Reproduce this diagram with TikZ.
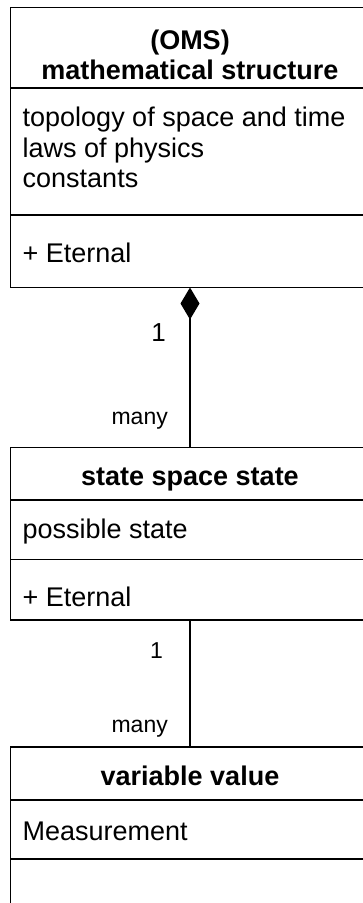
\documentclass[tikz,border=0pt]{standalone}
\usepackage{fontspec}
\setmainfont{Liberation Sans}
\usetikzlibrary{arrows.meta}

\tikzset{
  classbox/.style={draw=black, line width=1.6pt, fill=white, rectangle,
    inner sep=0pt, outer sep=0pt, anchor=north west, minimum width=359pt},
  sepline/.style={draw=black, line width=1.6pt},
  titletext/.style={anchor=base, inner sep=0pt, font=\fontsize{27}{31}\selectfont\bfseries},
  attrtext/.style={anchor=base west, inner sep=0pt, font=\fontsize{27}{31}\selectfont},
  multtext/.style={anchor=base east, inner sep=0pt, font=\fontsize{23}{28}\selectfont},
  assoc/.style={draw=black, line width=1.4pt},
}

\begin{document}
\begin{tikzpicture}[x=1pt, y=-1pt]
  \useasboundingbox (0,0) rectangle (363,903);
  \clip (0,0) rectangle (363,903);

  % class: mathematical structure
  \node[classbox, minimum height=280pt] (oms) at (10.5,7.5) {};
  \draw[sepline] (10.5,88) -- (369.5,88);
  \draw[sepline] (10.5,215) -- (369.5,215);
  \node[titletext] (omsA) at (190,49) {(OMS)};
  \node[titletext] (omsB) at (190,79) {mathematical structure};
  \node[attrtext] (omsC) at (22.5,126) {topology of space and time};
  \node[attrtext] (omsD) at (22.5,157) {laws of physics};
  \node[attrtext] (omsE) at (22.5,187) {constants};
  \node[attrtext] (omsF) at (22.5,262) {+ Eternal};

  % class: state space state
  \node[classbox, minimum height=172.5pt] (sss) at (10.5,447.5) {};
  \draw[sepline] (10.5,500) -- (369.5,500);
  \draw[sepline] (10.5,559.5) -- (369.5,559.5);
  \node[titletext] (sssA) at (190,485) {state space state};
  \node[attrtext] (sssB) at (22.5,538) {possible state};
  \node[attrtext] (sssC) at (22.5,606) {+ Eternal};

  % class: variable value
  \node[classbox, minimum height=200pt] (var) at (10.5,747) {};
  \draw[sepline] (10.5,800) -- (369.5,800);
  \draw[sepline] (10.5,859) -- (369.5,859);
  \node[titletext] (varA) at (190,785) {variable value};
  \node[attrtext] (varB) at (22.5,840) {Measurement};

  % composition and association
  \draw[assoc, {Diamond[length=32pt, width=19pt, line width=0pt]}-] (oms.south) -- (sss.north);
  \draw[assoc] (sss.south) -- (var.north);

  % multiplicities
  \node[multtext, font=\fontsize{26}{30}\selectfont] (m1) at (166,341) {1};
  \node[multtext] (m2) at (168,424) {many};
  \node[multtext] (m3) at (163,658) {1};
  \node[multtext] (m4) at (168,732) {many};
\end{tikzpicture}
\end{document}
